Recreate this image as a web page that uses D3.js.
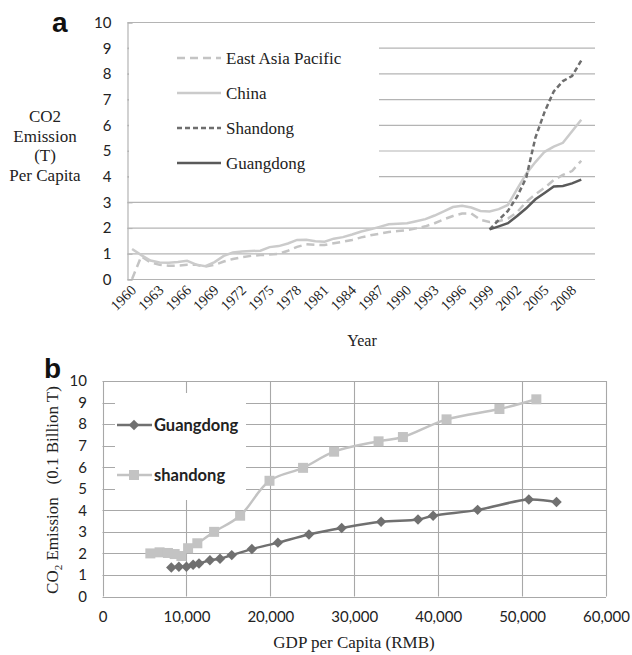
<!DOCTYPE html>
<html>
<head>
<meta charset="utf-8">
<script src="https://cdn.jsdelivr.net/npm/d3@7"></script>
<style>
  body { margin: 0; background: #fff; }
  svg { display: block; }
  .serif { font-family: "Liberation Serif", "Times New Roman", serif; fill: #222; }
  .sans { font-family: Lato, "Open Sans", sans-serif; fill: #222; }
</style>
</head>
<body>
<svg id="chart" width="632" height="655"></svg>
<script>
// panel a: CO2 per capita by year
var years = d3.range(1960, 2010);
var eastAsia = [0, 0.88, 0.65, 0.55, 0.52, 0.52, 0.55, 0.55, 0.48, 0.55,
  0.68, 0.78, 0.85, 0.9, 0.93, 0.95, 0.98, 1.1, 1.25, 1.35,
  1.33, 1.32, 1.39, 1.45, 1.52, 1.62, 1.7, 1.76, 1.83, 1.87,
  1.9, 1.97, 2.05, 2.17, 2.32, 2.45, 2.55, 2.55, 2.3, 2.22,
  2.25, 2.35, 2.6, 3.0, 3.3, 3.55, 3.85, 4.05, 4.2, 4.6];
var china = [1.17, 0.93, 0.72, 0.64, 0.63, 0.66, 0.71, 0.56, 0.5, 0.66,
  0.9, 1.03, 1.07, 1.09, 1.1, 1.24, 1.28, 1.38, 1.52, 1.53,
  1.47, 1.45, 1.57, 1.63, 1.73, 1.85, 1.93, 2.03, 2.13, 2.15,
  2.17, 2.25, 2.33, 2.47, 2.63, 2.8, 2.85, 2.78, 2.65, 2.63,
  2.72, 2.88, 3.5, 4.1, 4.55, 4.95, 5.15, 5.3, 5.75, 6.2];
var provYears = d3.range(1999, 2010);
var shandongA = [1.93, 2.3, 2.65, 3.2, 3.95, 5.5, 6.5, 7.3, 7.7, 7.9, 8.5];
var guangdongA = [1.93, 2.05, 2.17, 2.45, 2.75, 3.1, 3.35, 3.6, 3.62, 3.72, 3.87];
var yearLabels = d3.range(1960, 2009, 3);

// panel b: emission vs GDP per capita
var gdGdp = [8200, 9100, 10000, 10800, 11500, 12800, 14000, 15400, 17800, 20900,
  24600, 28500, 33200, 37600, 39400, 44700, 50800, 54100];
var gdEmission = [1.35, 1.38, 1.38, 1.47, 1.53, 1.68, 1.75, 1.92, 2.2, 2.5,
  2.88, 3.18, 3.47, 3.57, 3.75, 4.02, 4.5, 4.38];
var sdGdp = [5700, 6800, 7800, 8600, 9400, 10200, 11300, 13300, 16400, 19900,
  23900, 27600, 32900, 35800, 41000, 47300, 51700];
var sdEmission = [2.0, 2.05, 2.02, 1.97, 1.88, 2.24, 2.47, 3.0, 3.75, 5.37,
  5.97, 6.72, 7.2, 7.4, 8.22, 8.7, 9.15];

var svg = d3.select("#chart");
var gridColor = "#b4b4b4";

// ---------- panel a ----------
var ax = d3.scalePoint().domain(d3.range(1960, 2011)).range([127.5, 595]).padding(0.5);
var ay = d3.scaleLinear().domain([0, 10]).range([279, 22]);

var ga = svg.append("g");
ga.append("g").selectAll("line").data(d3.range(0, 11)).join("line")
  .attr("x1", 127.5).attr("x2", 595)
  .attr("y1", d => ay(d) + 0.5).attr("y2", d => ay(d) + 0.5)
  .attr("stroke", gridColor).attr("stroke-width", 1.2);

var yAxisA = ga.append("g").attr("transform", "translate(127.5,0.5)")
  .call(d3.axisLeft(ay).ticks(10).tickSize(-5).tickPadding(16));
yAxisA.select(".domain").attr("stroke", gridColor).attr("stroke-width", 1.2);
yAxisA.selectAll(".tick line").attr("stroke", gridColor);
yAxisA.selectAll("text").attr("class", "sans").style("font-size", "15px").attr("fill", "#222");

// legend box hides the middle gridlines
ga.append("rect").attr("x", 129).attr("y", 32).attr("width", 250).attr("height", 158).attr("fill", "#fff");

var seriesA = [
  { name: "East Asia Pacific", years: years, values: eastAsia, color: "#c4c4c4", dash: "8,5" },
  { name: "China", years: years, values: china, color: "#cbcbcb", dash: null },
  { name: "Shandong", years: provYears, values: shandongA, color: "#6e6e6e", dash: "5,3" },
  { name: "Guangdong", years: provYears, values: guangdongA, color: "#5a5a5a", dash: null }
];

var lineA = d3.line().x(d => ax(d[0])).y(d => ay(d[1]));
seriesA.forEach(function (s) {
  ga.append("path")
    .datum(s.years.map((y, i) => [y, s.values[i]]))
    .attr("d", lineA)
    .attr("fill", "none")
    .attr("stroke", s.color)
    .attr("stroke-width", 2.5)
    .attr("stroke-dasharray", s.dash);
});

// legend a
seriesA.forEach(function (s, i) {
  var cy = 58 + i * 35;
  ga.append("line").attr("x1", 177).attr("x2", 221).attr("y1", cy).attr("y2", cy)
    .attr("stroke", s.color).attr("stroke-width", 2.5).attr("stroke-dasharray", s.dash);
  ga.append("text").attr("class", "serif").attr("x", 226).attr("y", cy + 5.5)
    .style("font-size", "17px").text(s.name);
});

// x tick labels a
ga.append("g").selectAll("text").data(yearLabels).join("text")
  .attr("class", "serif")
  .attr("text-anchor", "end")
  .attr("transform", d => "translate(" + (ax(d) + 5) + ",291) rotate(-45)")
  .style("font-size", "14.5px")
  .text(d => d);

ga.append("text").attr("class", "serif").attr("x", 362).attr("y", 346)
  .attr("text-anchor", "middle").style("font-size", "16px").text("Year");

var yTitleA = ["CO2", "Emission", "(T)", "Per Capita"];
ga.append("g").selectAll("text").data(yTitleA).join("text")
  .attr("class", "serif").attr("x", 45).attr("y", (d, i) => 122 + i * 19.5)
  .attr("text-anchor", "middle").style("font-size", "17px").text(d => d);

svg.append("text").attr("x", 52).attr("y", 32)
  .style("font-family", "Liberation Sans, Arial, sans-serif").style("font-weight", "bold")
  .style("font-size", "28px").attr("fill", "#111").text("a");

// ---------- panel b ----------
var bx = d3.scaleLinear().domain([0, 60000]).range([102.5, 606]);
var by = d3.scaleLinear().domain([0, 10]).range([596.5, 381]);
var gb = svg.append("g");
var gridB = "#a8a8a8";

gb.append("g").selectAll("line").data(d3.range(0, 11)).join("line")
  .attr("x1", bx(0)).attr("x2", bx(60000))
  .attr("y1", d => Math.round(by(d)) + 0.5).attr("y2", d => Math.round(by(d)) + 0.5)
  .attr("stroke", gridB).attr("stroke-width", 1.1);
gb.append("g").selectAll("line").data(d3.range(0, 60001, 10000)).join("line")
  .attr("y1", by(0)).attr("y2", by(10))
  .attr("x1", d => Math.round(bx(d)) + 0.5).attr("x2", d => Math.round(bx(d)) + 0.5)
  .attr("stroke", gridB).attr("stroke-width", 1.1);

// legend box b
gb.append("rect").attr("x", 115).attr("y", 393).attr("width", 131).attr("height", 107).attr("fill", "#fff");

var yAxisB = gb.append("g").attr("transform", "translate(87,0)")
  .call(d3.axisLeft(by).ticks(10).tickSize(0).tickPadding(0));
yAxisB.select(".domain").remove();
yAxisB.selectAll("text").attr("class", "sans").style("font-size", "15px").attr("fill", "#222");

var xAxisB = gb.append("g").attr("transform", "translate(0,611)")
  .call(d3.axisBottom(bx).tickValues(d3.range(0, 60001, 10000)).tickFormat(d3.format(",")).tickSize(0).tickPadding(0));
xAxisB.select(".domain").remove();
xAxisB.selectAll("text").attr("class", "sans").style("font-size", "15px").attr("fill", "#222");

var lineB = d3.line().x(d => bx(d[0])).y(d => by(d[1])).curve(d3.curveCatmullRom.alpha(0.5));
var sdPts = sdGdp.map((g, i) => [g, sdEmission[i]]);
var gdPts = gdGdp.map((g, i) => [g, gdEmission[i]]);
var sdColor = "#c3c3c3", gdColor = "#707070";

gb.append("path").datum(sdPts).attr("d", lineB).attr("fill", "none")
  .attr("stroke", sdColor).attr("stroke-width", 2.5);
gb.append("g").selectAll("rect").data(sdPts).join("rect")
  .attr("x", d => bx(d[0]) - 5).attr("y", d => by(d[1]) - 5)
  .attr("width", 10).attr("height", 10).attr("fill", sdColor);

gb.append("path").datum(gdPts).attr("d", lineB).attr("fill", "none")
  .attr("stroke", gdColor).attr("stroke-width", 2.5);
var diamond = d3.symbol().type(d3.symbolDiamond2).size(70);
gb.append("g").selectAll("path").data(gdPts).join("path")
  .attr("transform", d => "translate(" + bx(d[0]) + "," + by(d[1]) + ")")
  .attr("d", diamond).attr("fill", gdColor);

// legend b
var legB = [
  { name: "Guangdong", color: gdColor, shape: "diamond", cy: 425 },
  { name: "shandong", color: sdColor, shape: "square", cy: 475 }
];
legB.forEach(function (s) {
  gb.append("line").attr("x1", 117).attr("x2", 152).attr("y1", s.cy).attr("y2", s.cy)
    .attr("stroke", s.color).attr("stroke-width", 2.5);
  if (s.shape === "diamond") {
    gb.append("path").attr("transform", "translate(134," + s.cy + ")").attr("d", diamond).attr("fill", s.color);
  } else {
    gb.append("rect").attr("x", 129).attr("y", s.cy - 5).attr("width", 10).attr("height", 10).attr("fill", s.color);
  }
  gb.append("text").attr("class", "sans").attr("x", 154).attr("y", s.cy + 6)
    .style("font-size", "16.5px").style("font-weight", "bold").text(s.name);
});

gb.append("text").attr("class", "serif").attr("x", 354).attr("y", 648)
  .attr("text-anchor", "middle").style("font-size", "17px").text("GDP per Capita (RMB)");

var yTitleB = gb.append("text").attr("class", "serif")
  .attr("transform", "translate(58,490) rotate(-90)")
  .attr("text-anchor", "middle").style("font-size", "17px").style("white-space", "pre");
yTitleB.append("tspan").text("CO");
yTitleB.append("tspan").attr("dy", 4).style("font-size", "11px").text("2");
yTitleB.append("tspan").attr("dy", -4).text(" Emission   (0.1 Billion T)");

svg.append("text").attr("x", 44).attr("y", 378)
  .style("font-family", "Liberation Sans, Arial, sans-serif").style("font-weight", "bold")
  .style("font-size", "28px").attr("fill", "#111").text("b");
</script>
</body>
</html>
